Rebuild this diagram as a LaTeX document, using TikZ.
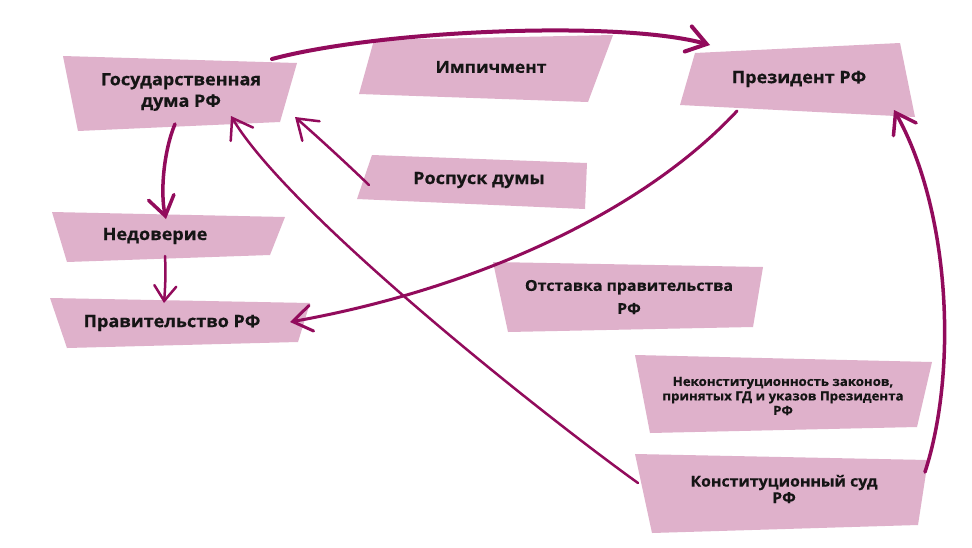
\documentclass[tikz,border=0pt]{standalone}
\usepackage{fontspec}
\setmainfont{Open Sans}[FakeStretch=1.06, BoldFeatures={FakeBold=0.5}]
\usetikzlibrary{arrows.meta}
\definecolor{acc}{HTML}{920B5C}
\definecolor{boxfill}{HTML}{DFB1CB}
\definecolor{txt}{HTML}{151515}
\tikzset{
  box/.style={fill=boxfill, draw=none},
  lbl/.style={text=txt, align=center, inner sep=0pt, font=\bfseries\fontsize{17}{21.5}\selectfont},
  lblsmall/.style={lbl, font=\bfseries\fontsize{12.5}{14.5}\selectfont},
  conn/.style={draw=acc, line cap=round, line join=round,
    -{Straight Barb[length=19pt,width=26pt,line cap=round]}},
}
\begin{document}
\begin{tikzpicture}[x=1pt,y=-1pt]
\useasboundingbox (0,0) rectangle (972,547);
\fill[white] (0,0) rectangle (972,547);

% boxes
\path[box] (63,56) -- (297,63) -- (280,122) -- (78,131) -- cycle;
\path[box] (374,40) -- (613,35) -- (588,102) -- (359,94) -- cycle;
\path[box] (695,53) -- (900,43) -- (915,117) -- (680,105) -- cycle;
\path[box] (372,155) -- (587,163) -- (585,209) -- (357,199) -- cycle;
\path[box] (52,212) -- (285,217) -- (270,255) -- (67,262) -- cycle;
\path[box] (50,298) -- (310,303) -- (298,342) -- (67,348) -- cycle;
\path[box] (493,262) -- (763,267) -- (753,327) -- (508,332) -- cycle;
\path[box] (635,355) -- (932,362) -- (917,427) -- (650,433) -- cycle;
\path[box] (635,454) -- (928,460) -- (918,525) -- (652,533) -- cycle;

% labels
\node[lbl] (gd)  at (181,92)  {Государственная\\дума РФ};
\node[lbl, font=\bfseries\fontsize{16.5}{20}\selectfont] (imp) at (491,67)  {Импичмент};
\node[lbl] (pres) at (799,79) {Президент РФ};
\node[lbl] (ros) at (479,180) {Роспуск думы};
\node[lbl] (ned) at (155,236) {Недоверие};
\node[lbl] (prav) at (172,323) {Правительство РФ};
\node[lbl, font=\bfseries\fontsize{15}{23}\selectfont] (otst) at (629,297) {Отставка правительства\\РФ};
\node[lblsmall] (nek) at (783,396) {Неконституционность законов,\\принятых ГД и указов Президента\\РФ};
\node[lbl, font=\bfseries\fontsize{15}{16.5}\selectfont] (ks) at (784,489) {Конституционный суд\\РФ};

% connector end points
\coordinate (gd-ne) at (272,59);
\coordinate (gd-s) at (175,124);
\coordinate (gd-se) at (231,116);
\coordinate (gd-e) at (295,117);
\coordinate (pres-w) at (710,45);
\coordinate (pres-s) at (737,111);
\coordinate (pres-se) at (894,110);
\coordinate (ros-w) at (369,185);
\coordinate (ned-n) at (166,219);
\coordinate (ned-s) at (165,256);
\coordinate (prav-n) at (164,303);
\coordinate (prav-e) at (290,322);
\coordinate (ks-w) at (638,483);
\coordinate (ks-e) at (925,472);

% connectors
\draw[conn, line width=4pt] (gd-ne) .. controls (380,30) and (620,20) .. (pres-w);
\draw[conn, line width=3.5pt] (gd-s) .. controls (164,150) and (160,192) .. (ned-n);
\draw[conn, line width=2.5pt, -{Straight Barb[length=15pt,width=22pt,line cap=round]}] (ned-s) .. controls (166,275) and (165,290) .. (prav-n);
\draw[conn, line width=3pt] (pres-s) .. controls (640,215) and (470,290) .. (prav-e);
\draw[conn, line width=2.5pt] (ros-w) .. controls (345,162) and (320,139) .. (gd-e);
\draw[conn, line width=2.5pt] (ks-w) .. controls (550,420) and (290,215) .. (gd-se);
\draw[conn, line width=3.5pt] (ks-e) .. controls (958,370) and (950,210) .. (pres-se);
\end{tikzpicture}
\end{document}
